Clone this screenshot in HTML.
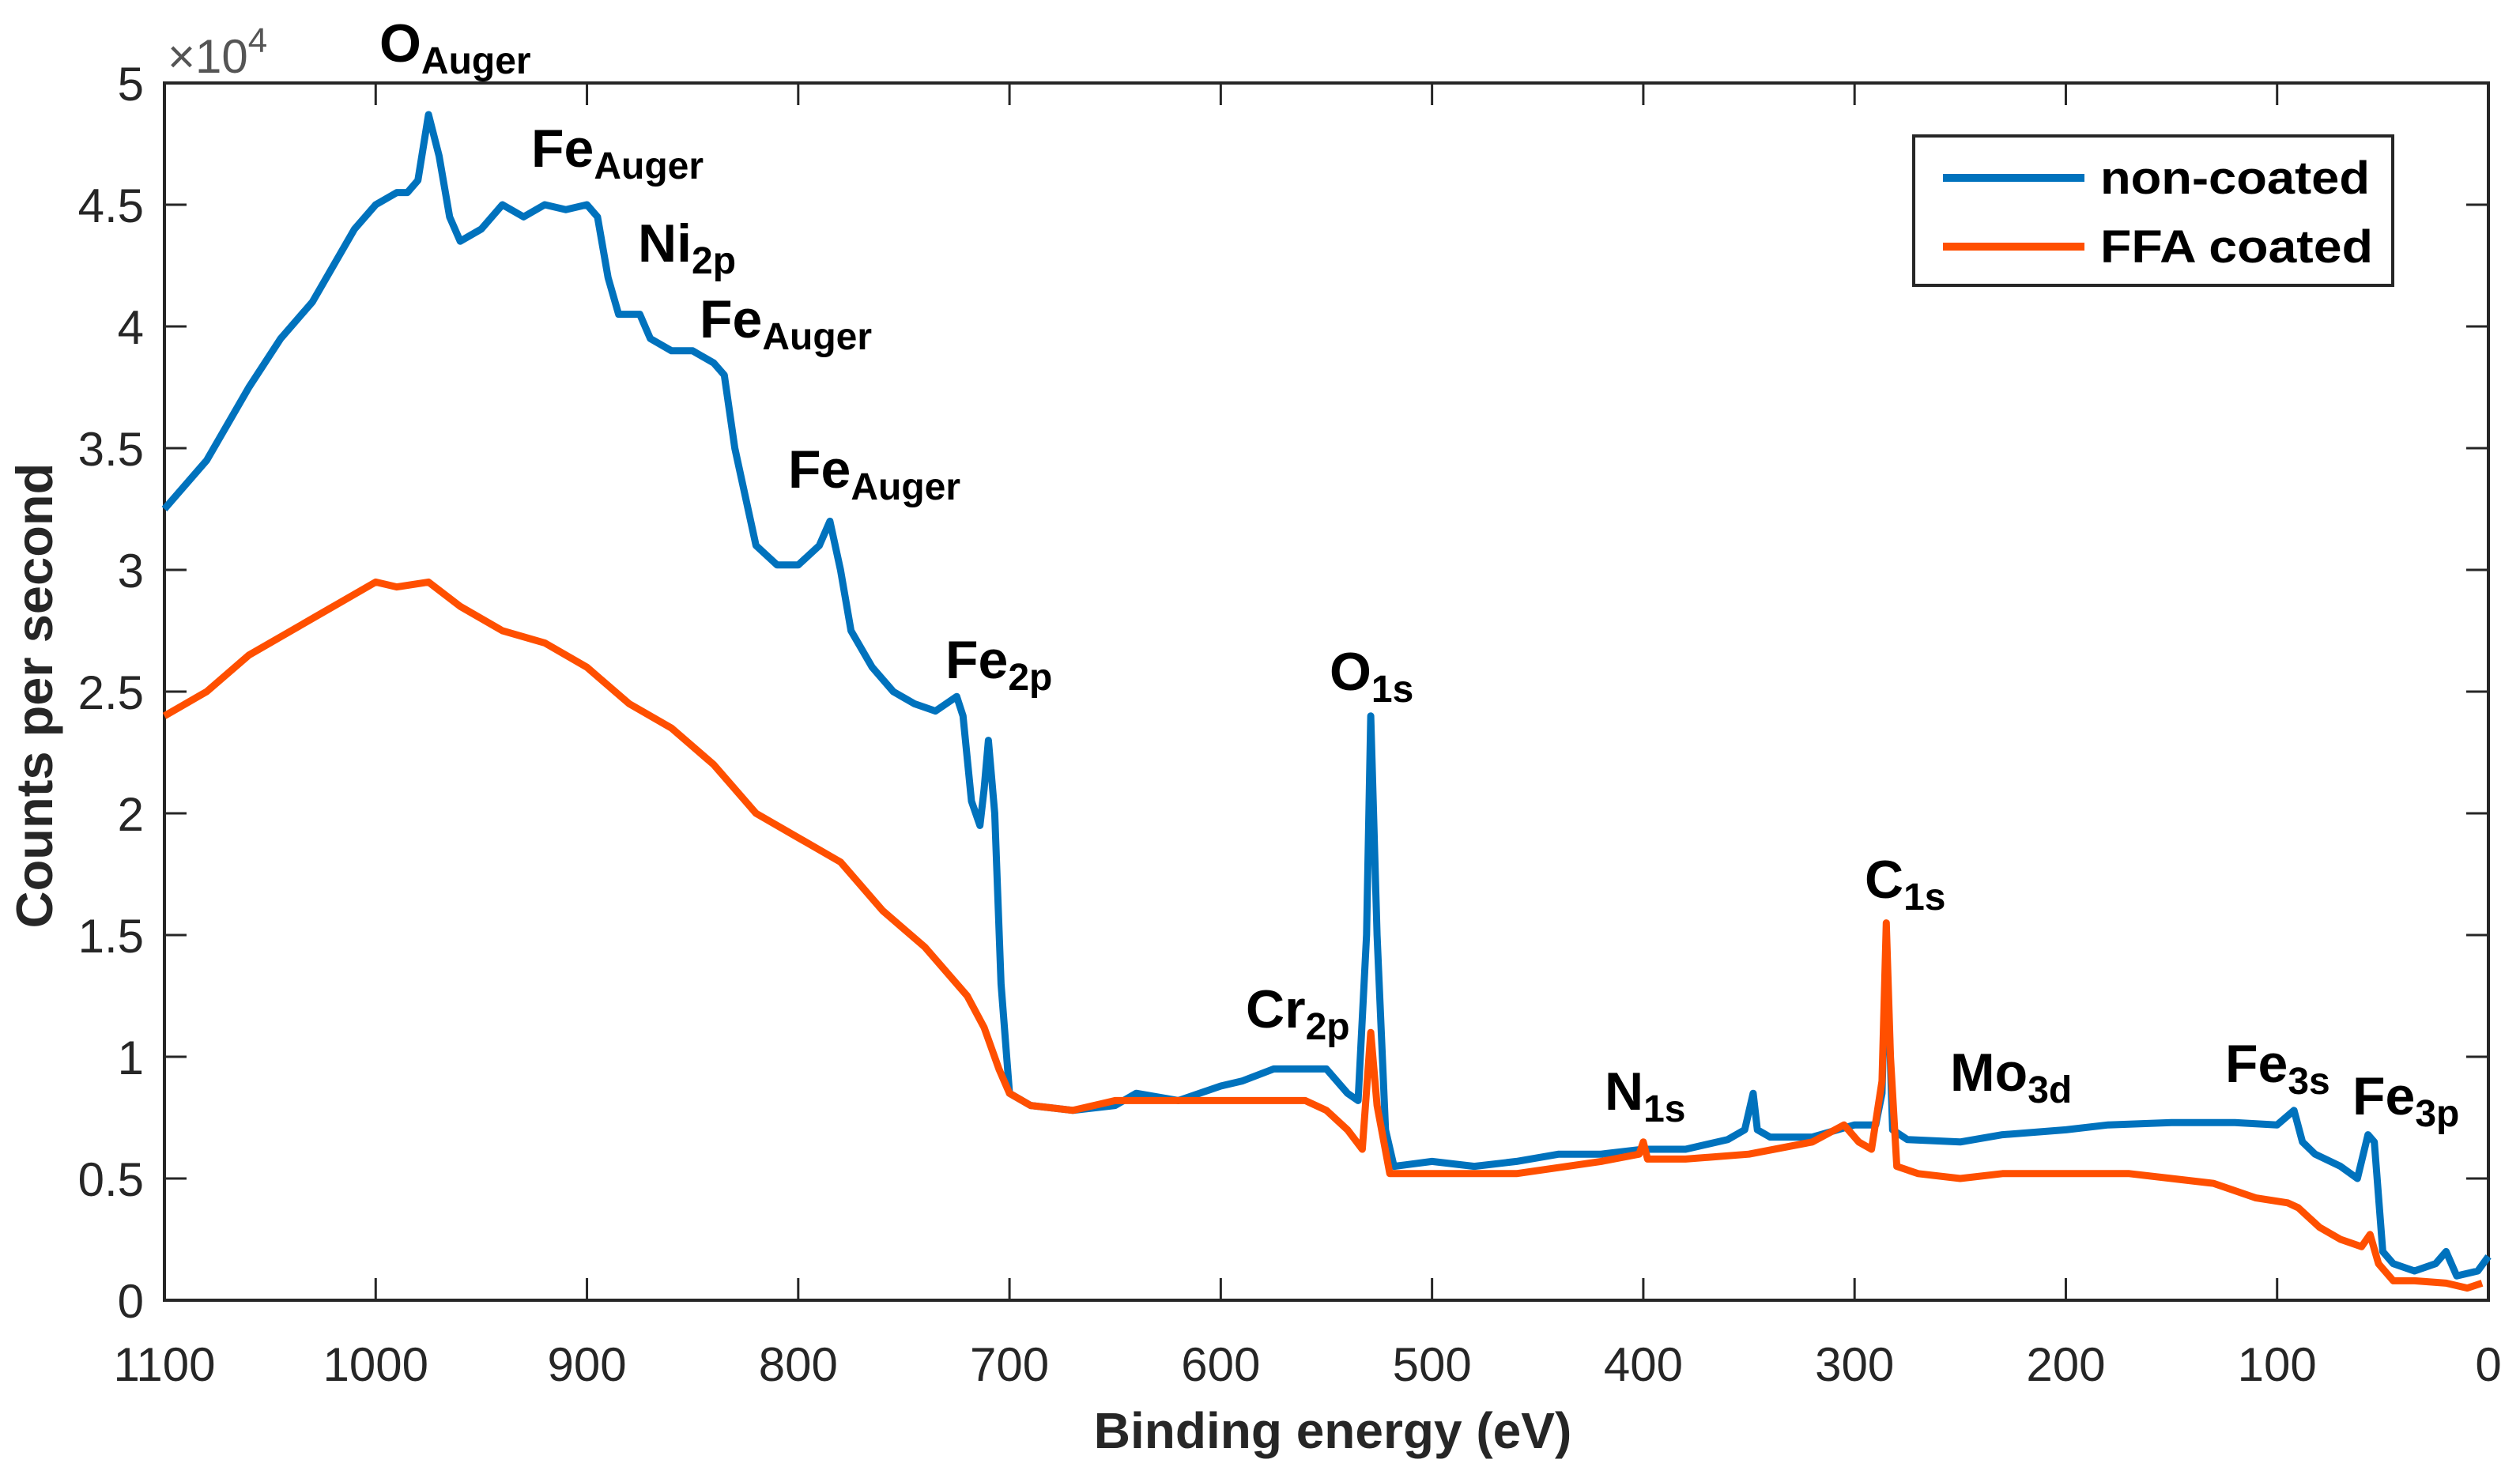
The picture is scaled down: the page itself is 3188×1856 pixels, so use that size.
<!DOCTYPE html>
<html><head><meta charset="utf-8"><style>
html,body{margin:0;padding:0;background:#fff;}
svg{display:block;}
text{font-family:"Liberation Sans",sans-serif;}
</style></head><body>
<svg id="chart" width="3188" height="1856" viewBox="0 0 3188 1856" xmlns="http://www.w3.org/2000/svg">
<rect width="3188" height="1856" fill="#fff"/>
<g id="axes"></g>
<g id="series"></g>
<g id="labels"></g>
<g id="legend">
  <rect x="2421" y="172" width="606" height="189" fill="#fff" stroke="#262626" stroke-width="4"/>
  <line x1="2458" y1="225" x2="2637" y2="225" stroke="#0072BD" stroke-width="10"/>
  <text x="2657" y="245" font-size="58" font-weight="bold" textLength="341" lengthAdjust="spacingAndGlyphs">non-coated</text>
  <line x1="2458" y1="312" x2="2637" y2="312" stroke="#FF4F00" stroke-width="10"/>
  <text x="2657" y="332" font-size="58" font-weight="bold" textLength="345" lengthAdjust="spacingAndGlyphs">FFA coated</text>
</g>
</svg>
<script>
const xTicks = [1100,1000,900,800,700,600,500,400,300,200,100,0];
const yTicks = [0,0.5,1,1.5,2,2.5,3,3.5,4,4.5,5];
const yTickLabels = ["0","0.5","1","1.5","2","2.5","3","3.5","4","4.5","5"];
const blueX = [1100,1080,1060,1045,1030,1020,1010,1000,990,985,980,975,970,965,960,950,940,930,920,910,900,895,890,885,875,870,860,850,840,835,830,825,820,810,800,790,785,780,775,765,755,745,735,725,722,718,714,712,710,707,704,700,690,670,650,640,620,600,590,575,560,550,540,535,531,529,526,522,518,500,480,460,440,420,400,380,360,352,348,346,340,320,300,290,287,285,282,275,250,230,200,180,150,120,100,92,88,82,70,62,57,54,50,45,35,25,20,15,5,0];
const blueY = [3.25,3.45,3.75,3.95,4.1,4.25,4.4,4.5,4.55,4.55,4.6,4.87,4.7,4.45,4.35,4.4,4.5,4.45,4.5,4.48,4.5,4.45,4.2,4.05,4.05,3.95,3.9,3.9,3.85,3.8,3.5,3.3,3.1,3.02,3.02,3.1,3.2,3.0,2.75,2.6,2.5,2.45,2.42,2.48,2.4,2.05,1.95,2.1,2.3,2.0,1.3,0.85,0.8,0.78,0.8,0.85,0.82,0.88,0.9,0.95,0.95,0.95,0.85,0.82,1.5,2.4,1.5,0.7,0.55,0.57,0.55,0.57,0.6,0.6,0.62,0.62,0.66,0.7,0.85,0.7,0.67,0.67,0.72,0.72,0.85,1.5,0.7,0.66,0.65,0.68,0.7,0.72,0.73,0.73,0.72,0.78,0.65,0.6,0.55,0.5,0.68,0.65,0.2,0.15,0.12,0.15,0.2,0.1,0.12,0.18];
const orangeX = [1100,1080,1060,1040,1020,1000,990,975,960,940,920,900,880,860,840,820,800,780,760,740,720,712,705,700,690,670,650,600,560,550,540,533,529,526,520,500,460,420,402,400,398,380,350,320,305,298,292,287,285,283,280,270,250,230,200,170,150,130,110,95,90,80,70,60,56,52,45,35,20,10,3];
const orangeY = [2.4,2.5,2.65,2.75,2.85,2.95,2.93,2.95,2.85,2.75,2.7,2.6,2.45,2.35,2.2,2.0,1.9,1.8,1.6,1.45,1.25,1.12,0.95,0.85,0.8,0.78,0.82,0.82,0.82,0.78,0.7,0.62,1.1,0.8,0.52,0.52,0.52,0.57,0.6,0.65,0.58,0.58,0.6,0.65,0.72,0.65,0.62,0.9,1.55,1.0,0.55,0.52,0.5,0.52,0.52,0.52,0.5,0.48,0.42,0.4,0.38,0.3,0.25,0.22,0.27,0.15,0.08,0.08,0.07,0.05,0.07];

const L=208,R=3148,T=105,B=1645;
const xs = v => L + (1100 - v) / 1100 * (R - L);
const ys = v => B - v / 5 * (B - T);
const NS='http://www.w3.org/2000/svg';
function mk(tag, attrs, parent){const e=document.createElementNS(NS,tag);for(const k in attrs)e.setAttribute(k,attrs[k]);parent.appendChild(e);return e;}
const axes=document.getElementById('axes');
const frame=mk('rect',{x:L,y:T,width:R-L,height:B-T,fill:'none',stroke:'#262626','stroke-width':4},axes);


xTicks.forEach(v=>{
  const x=xs(v);
  const t1=mk('line',{x1:x,y1:B,x2:x,y2:B-28,stroke:'#262626','stroke-width':3},axes);
  
  
  const t2=mk('line',{x1:x,y1:T,x2:x,y2:T+28,stroke:'#262626','stroke-width':3},axes);
  
  
  const lb=mk('text',{x:x,y:1747,'font-size':60,'text-anchor':'middle',fill:'#262626'},axes);
  lb.textContent=String(v);
  
  
});
yTicks.forEach((v,i)=>{
  const y=ys(v);
  const t1=mk('line',{x1:L,y1:y,x2:L+28,y2:y,stroke:'#262626','stroke-width':3},axes);
  
  
  const t2=mk('line',{x1:R,y1:y,x2:R-28,y2:y,stroke:'#262626','stroke-width':3},axes);
  
  
  const lb=mk('text',{x:182,y:y+22,'font-size':60,'text-anchor':'end',fill:'#262626'},axes);
  lb.textContent=yTickLabels[i];
  
  
});
const ex=mk('text',{x:212,y:92,'font-size':60,fill:'#555'},axes);
ex.innerHTML='×10<tspan dy="-26" font-size="44">4</tspan>';


const xl=mk('text',{x:1686,y:1832,'font-size':64,'font-weight':'bold','text-anchor':'middle',fill:'#262626'},axes);
xl.textContent='Binding energy (eV)';


const yl=mk('text',{x:0,y:0,'font-size':65,'font-weight':'bold','text-anchor':'middle',fill:'#262626',transform:'translate(66,880) rotate(-90)'},axes);
yl.textContent='Counts per second';



const series=document.getElementById('series');
function path(X,Y){return X.map((v,i)=>(i?'L':'M')+xs(v).toFixed(1)+','+ys(Y[i]).toFixed(1)).join(' ');}
const pb=mk('path',{d:path(blueX,blueY),fill:'none',stroke:'#0072BD','stroke-width':9,'stroke-linejoin':'round'},series);


const po=mk('path',{d:path(orangeX,orangeY),fill:'none',stroke:'#FF4F00','stroke-width':9,'stroke-linejoin':'round'},series);



const peakMain=['O','Fe','Ni','Fe','Fe','Fe','O','C','Cr','N','Mo','Fe','Fe'];
const peakSub=['Auger','Auger','2p','Auger','Auger','2p','1s','1s','2p','1s','3d','3s','3p'];
const peakPos=[[480,78],[672,211],[807,331],[885,427],[997,617],[1196,858],[1682,873],[2359,1136],[1576,1300],[2030,1404],[2467,1380],[2815,1369],[2976,1410]];
const labels=document.getElementById('labels');
peakMain.forEach((m,i)=>{
  const t=mk('text',{x:peakPos[i][0],y:peakPos[i][1],'font-size':68,'font-weight':'bold',fill:'#000'},labels);
  t.innerHTML=m+'<tspan dy="15" font-size="48">'+peakSub[i]+'</tspan>';
  
  
});
</script>
</body></html>
